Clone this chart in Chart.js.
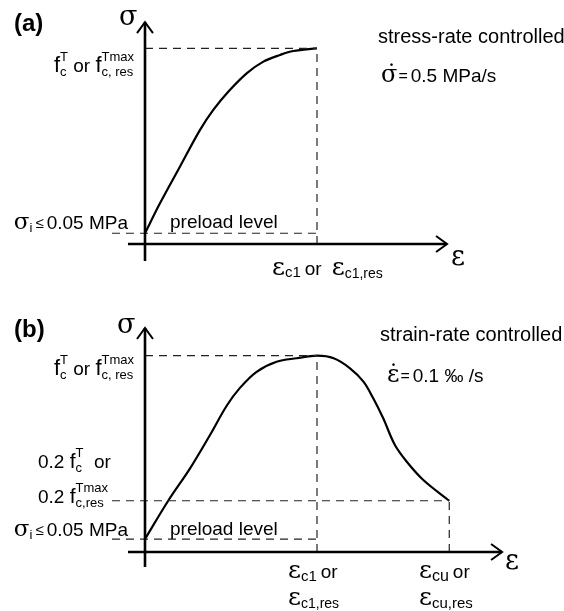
<!DOCTYPE html>
<html>
<head>
<meta charset="utf-8">
<script src="https://cdn.jsdelivr.net/npm/chart.js@4.4.0/dist/chart.umd.min.js"></script>
<style>
  html, body { margin: 0; padding: 0; background: #fff; }
  .panel { position: absolute; left: 0; width: 564px; }
</style>
</head>
<body>
<div class="panel" style="top:0;height:300px"><canvas id="panelA"></canvas></div>
<div class="panel" style="top:300px;height:311px"><canvas id="panelB"></canvas></div>
<script>
// strain in units of eps_c1, stress in units of f_c

// (a) stress-rate controlled
const strainA = [0, 0.087, 0.203, 0.320, 0.397, 0.484, 0.591, 0.688, 0.785, 0.862, 1.0];
const stressA = [0.055, 0.208, 0.395, 0.583, 0.685, 0.778, 0.872, 0.932, 0.966, 0.986, 1.0];

// (b) strain-rate controlled
const strainB = [0, 0.135, 0.262, 0.378, 0.475, 0.552, 0.649, 0.765, 0.882, 1.0,
                 1.097, 1.192, 1.270, 1.327, 1.385, 1.453, 1.522, 1.618, 1.769];
const stressB = [0.066, 0.261, 0.426, 0.596, 0.745, 0.836, 0.918, 0.969, 0.987, 1.0,
                 0.987, 0.936, 0.868, 0.783, 0.681, 0.545, 0.460, 0.367, 0.261];

const peakStrain = 1.0;
const peakStress = 1.0;
const preloadA = 0.055;
const preloadB = 0.066;
const residualB = 0.261;   // 0.2 f_c level, as drawn
const ultimateB = 1.769;   // eps_cu

const SANS = '"Liberation Sans", Arial, sans-serif';
const GREEK = '"DejaVu Serif", "Liberation Serif", serif';
const F = 19, SUBF = 13;

// map pixel anchors to scale limits (scales are hidden, chart area = whole canvas)
function spanX(originPx, unitPx, sizePx) {
  return { min: -originPx / unitPx, max: (sizePx - originPx) / unitPx };
}
function spanY(originPx, unitPx, sizePx) {
  return { min: -(sizePx - originPx) / unitPx, max: originPx / unitPx };
}

// draw a run of text pieces; {t,f,dy} or stacked {sup,sub}
function rich(ctx, x, y, parts, align) {
  const run = (draw) => {
    let cx = x;
    parts.forEach(p => {
      if (p.gap) { cx += p.gap; return; }
      if (p.sup !== undefined || p.sub !== undefined) {
        ctx.font = (p.size || SUBF) + 'px ' + SANS;
        const w1 = p.sup ? ctx.measureText(p.sup).width : 0;
        const w2 = p.sub ? ctx.measureText(p.sub).width : 0;
        if (draw && p.sup) ctx.fillText(p.sup, cx, y - (p.up ?? 11));
        if (draw && p.sub) ctx.fillText(p.sub, cx, y + (p.dn ?? 4));
        cx += Math.max(w1, w2);
      } else {
        ctx.font = p.f || (F + 'px ' + SANS);
        if (draw) ctx.fillText(p.t, cx, y + (p.dy || 0));
        cx += ctx.measureText(p.t).width;
      }
    });
    return cx - x;
  };
  if (align === 'right') {
    const w = run(false);
    x = x - w;
  }
  run(true);
}

function seg(x0, y0, x1, y1) {
  return [{ x: x0, y: y0 }, { x: x1, y: y1 }];
}

function dashed(data) {
  return {
    data: data, borderColor: '#222', borderWidth: 1.2, borderDash: [8, 6],
    pointRadius: 0, tension: 0, fill: false
  };
}

function curve(xs, ys) {
  return {
    data: xs.map((v, i) => ({ x: v, y: ys[i] })),
    borderColor: '#000', borderWidth: 2.2, pointRadius: 0, fill: false,
    tension: 0.35
  };
}

// arrow axes drawn through the scales
function axesPlugin(ext) {
  return {
    id: 'axes',
    afterDatasetsDraw(chart) {
      const ctx = chart.ctx, xs = chart.scales.x, ys = chart.scales.y;
      const ox = xs.getPixelForValue(0), oy = ys.getPixelForValue(0);
      const xEnd = xs.getPixelForValue(ext.xMax), yEnd = ys.getPixelForValue(ext.yMax);
      ctx.save();
      ctx.strokeStyle = '#000';
      ctx.lineWidth = 2.6;
      ctx.lineCap = 'butt';
      ctx.beginPath();
      ctx.moveTo(xs.getPixelForValue(ext.xMin), oy); ctx.lineTo(xEnd, oy);
      ctx.moveTo(ox, ys.getPixelForValue(ext.yMin)); ctx.lineTo(ox, yEnd);
      ctx.stroke();
      ctx.lineWidth = 2;
      ctx.beginPath();
      ctx.moveTo(xEnd - 11, oy - 8); ctx.lineTo(xEnd, oy); ctx.lineTo(xEnd - 11, oy + 8);
      ctx.moveTo(ox - 8, yEnd + 11); ctx.lineTo(ox, yEnd); ctx.lineTo(ox + 8, yEnd + 11);
      ctx.stroke();
      ctx.restore();
    }
  };
}

function labelsPlugin(draw) {
  return {
    id: 'labels',
    afterDraw(chart) {
      const ctx = chart.ctx;
      ctx.save();
      ctx.fillStyle = '#000';
      ctx.textBaseline = 'alphabetic';
      draw(ctx, chart.scales.x, chart.scales.y);
      ctx.restore();
    }
  };
}

const fLabel = [
  { t: 'f', f: '22px ' + SANS }, { sup: 'T', sub: 'c' }, { t: ' or ' },
  { t: 'f', f: '22px ' + SANS }, { sup: 'Tmax', sub: 'c, res', size: 13 }
];
const sigmaILabel = [
  { t: 'σ', f: '23px ' + GREEK }, { sub: 'i', dn: 3, size: 13 }, { gap: 3 },
  { t: '≤', f: '15px ' + SANS, dy: -1 }, { gap: 3 }, { t: '0.05 MPa' }
];

function baseOptions(sx, sy) {
  return {
    responsive: true,
    maintainAspectRatio: false,
    animation: false,
    layout: { padding: 0 },
    plugins: { legend: { display: false }, tooltip: { enabled: false } },
    scales: {
      x: { type: 'linear', display: false, min: sx.min, max: sx.max },
      y: { type: 'linear', display: false, min: sy.min, max: sy.max }
    }
  };
}

/**
 * (a)
 */
const ctxA = document.getElementById('panelA');
if (ctxA) {
  const dashLeft = -0.192;
  const cfgA = {
    type: 'line',
    data: {
      datasets: [
        dashed(seg(0, peakStress, peakStrain, peakStress)),
        dashed(seg(peakStrain, 0, peakStrain, peakStress)),
        dashed(seg(dashLeft, preloadA, peakStrain, preloadA)),
        curve(strainA, stressA)
      ]
    },
    options: baseOptions(spanX(145, 172, 564), spanY(244, 195.7, 300)),
    plugins: [
      axesPlugin({ xMin: -0.099, xMax: 1.756, yMin: -0.087, yMax: 1.134 }),
      labelsPlugin((ctx, xs, ys) => {
        ctx.font = 'bold 24px ' + SANS;
        ctx.fillText('(a)', 14, 31);
        ctx.font = '27px ' + GREEK;
        ctx.fillText('σ', 119, 25);
        rich(ctx, 134, 72, fLabel, 'right');
        ctx.font = '20px ' + SANS;
        ctx.fillText('stress-rate controlled', 378, 43);
        rich(ctx, 381, 82, [{ t: 'σ̇', f: '24px ' + GREEK }, { gap: 1 }, { t: '=', f: '16px ' + SANS, dy: -1 }, { gap: 3 }, { t: '0.5 MPa/s' }]);
        rich(ctx, 128, 229, sigmaILabel, 'right');
        ctx.font = F + 'px ' + SANS;
        ctx.fillText('preload level', 170, 228);
        ctx.font = '27px ' + GREEK;
        ctx.fillText('ε', 451, 265);
        rich(ctx, 272, 275, [
          { t: 'ε', f: '25px ' + GREEK }, { sub: 'c1', dn: 2, size: 15 }, { gap: 4 }, { t: 'or' }, { gap: 10 },
          { t: 'ε', f: '25px ' + GREEK }, { sub: 'c1,res', dn: 3, size: 14 }
        ]);
      })
    ]
  };
  window.chartA = new Chart(ctxA, cfgA);
}

/**
 * (b)
 */
const ctxB = document.getElementById('panelB');
if (ctxB) {
  const dashLeft = -0.192;
  const cfgB = {
    type: 'line',
    data: {
      datasets: [
        dashed(seg(0, peakStress, peakStrain, peakStress)),
        dashed(seg(peakStrain, 0, peakStrain, peakStress)),
        dashed(seg(dashLeft, residualB, ultimateB, residualB)),
        dashed(seg(ultimateB, 0, ultimateB, residualB)),
        dashed(seg(dashLeft, preloadB, peakStrain, preloadB)),
        curve(strainB, stressB)
      ]
    },
    options: baseOptions(spanX(145, 172, 564), spanY(252, 196.3, 311)),
    plugins: [
      axesPlugin({ xMin: -0.099, xMax: 2.076, yMin: -0.076, yMax: 1.141 }),
      labelsPlugin((ctx, xs, ys) => {
        ctx.font = 'bold 24px ' + SANS;
        ctx.fillText('(b)', 14, 37);
        ctx.font = '27px ' + GREEK;
        ctx.fillText('σ', 117, 33);
        rich(ctx, 134, 75, fLabel, 'right');
        ctx.font = '20px ' + SANS;
        ctx.fillText('strain-rate controlled', 380, 41);
        rich(ctx, 387, 82, [{ t: 'ε̇', f: '24px ' + GREEK }, { gap: 1 }, { t: '=', f: '16px ' + SANS, dy: -1 }, { gap: 3 }, { t: '0.1 ‰ /s' }]);
        rich(ctx, 38, 168, [{ t: '0.2 ' }, { t: 'f', f: '21px ' + SANS }, { sup: 'T', sub: 'c' }, { t: '  or' }]);
        rich(ctx, 38, 203, [{ t: '0.2 ' }, { t: 'f', f: '21px ' + SANS }, { sup: 'Tmax', sub: 'c,res' }]);
        rich(ctx, 128, 236, sigmaILabel, 'right');
        ctx.font = F + 'px ' + SANS;
        ctx.fillText('preload level', 170, 235);
        ctx.font = '27px ' + GREEK;
        ctx.fillText('ε', 505, 269);
        rich(ctx, 288, 278, [{ t: 'ε', f: '25px ' + GREEK }, { sub: 'c1', dn: 3, size: 15 }, { gap: 4 }, { t: 'or' }]);
        rich(ctx, 288, 305, [{ t: 'ε', f: '25px ' + GREEK }, { sub: 'c1,res', dn: 3, size: 14 }]);
        rich(ctx, 419, 278, [{ t: 'ε', f: '25px ' + GREEK }, { sub: 'cu', dn: 3, size: 16 }, { gap: 4 }, { t: 'or' }]);
        rich(ctx, 419, 305, [{ t: 'ε', f: '25px ' + GREEK }, { sub: 'cu,res', dn: 3, size: 15 }]);
      })
    ]
  };
  window.chartB = new Chart(ctxB, cfgB);
}
</script>
</body>
</html>
